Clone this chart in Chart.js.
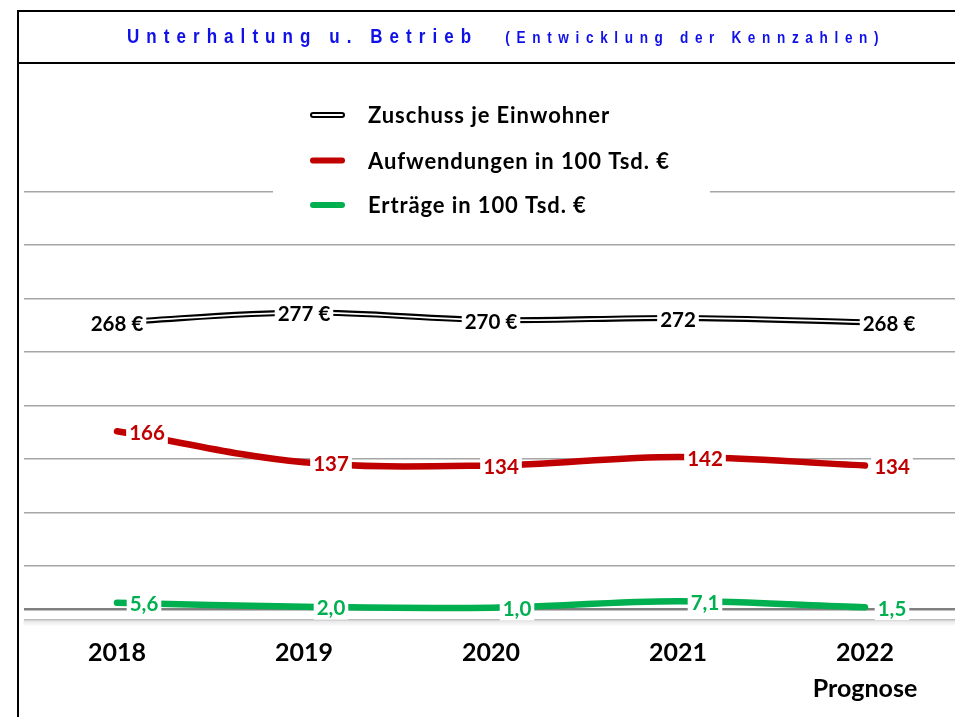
<!DOCTYPE html>
<html lang="de">
<head>
<meta charset="utf-8">
<title>Unterhaltung u. Betrieb</title>
<script src="https://cdn.jsdelivr.net/npm/chart.js@4.4.1/dist/chart.umd.min.js"></script>
<style>
    html, body { margin: 0; padding: 0; width: 955px; height: 717px; overflow: hidden; background: #fff; }
    #grafik { position: absolute; left: 0; top: 0; }
    #rahmen { position: absolute; left: 17px; top: 10px; width: 960px; height: 720px;
              border-left: 2px solid #000; border-top: 2px solid #000; pointer-events: none; }
    #kopf { height: 50px; border-bottom: 2px solid #000; }
    #titel { position: absolute; left: 127px; top: 26px; white-space: nowrap; line-height: 20px;
             font-family: 'Liberation Sans', Arial, sans-serif; font-weight: bold; color: #1010e8;
             transform: scaleX(0.85); transform-origin: 0 0; }
    #titel .haupt { font-size: 20px; letter-spacing: 8.3px; }
    #titel .zusatz { font-size: 16px; letter-spacing: 7.8px; margin-left: 32px; }
</style>
</head>
<body>
<canvas id="grafik" width="960" height="717"></canvas>
<div id="rahmen"><div id="kopf"></div></div>
<div id="titel"><span class="haupt">Unterhaltung u. Betrieb</span><span class="zusatz">(Entwicklung der Kennzahlen)</span></div>
<script>
// Daten
const jahre = [['2018'], ['2019'], ['2020'], ['2021'], ['2022', 'Prognose']];
const zuschuss = [268, 277, 270, 272, 268];
const zuschussText = ['268 €', '277 €', '270 €', '272', '268 €'];
const aufwendungen = [166, 137, 134, 142, 134];
const ertraege = [5.6, 2.0, 1.0, 7.1, 1.5];

// Gitterlinien der y-Achse
const gitterWerte = [-10, 0, 40, 90, 140, 190, 240, 290, 340, 390];

const schrift = "Lato, 'Open Sans', sans-serif";

function fmtGanz(v) { return v.toLocaleString('de-DE'); }
function fmtKomma(v) { return v.toLocaleString('de-DE', { minimumFractionDigits: 1, maximumFractionDigits: 1 }); }

// Beschriftung der Punkte (mit weissem Hintergrund)
const beschriftungen = [
    { ds: 0, texte: zuschussText, farbe: '#000000', dx: [0, 0, 0, 0, 24], dy: 1 },
    { ds: 2, texte: aufwendungen.map(fmtGanz), farbe: '#c00000', dx: [30, 27, 10, 27, 27], dy: 1 },
    { ds: 3, texte: ertraege.map(fmtKomma), farbe: '#00b050', dx: [27, 27, 26, 27, 27], dy: 1 }
];

const wertePlugin = {
    id: 'werte',
    afterDatasetsDraw(chart) {
        const ctx = chart.ctx;
        ctx.save();
        ctx.font = 'bold 20.5px ' + schrift;
        ctx.textAlign = 'center';
        ctx.textBaseline = 'middle';
        beschriftungen.forEach(b => {
            const meta = chart.getDatasetMeta(b.ds);
            meta.data.forEach((pt, i) => {
                const txt = b.texte[i];
                const x = pt.x + b.dx[i];
                const y = pt.y + b.dy;
                const w = ctx.measureText(txt).width;
                ctx.fillStyle = '#ffffff';
                ctx.fillRect(x - w / 2 - 3, y - 12, w + 6, 24);
                ctx.fillStyle = b.farbe;
                ctx.fillText(txt, x, y + 1);
            });
        });
        ctx.restore();
    }
};

// Legende im Diagramm (weisser Kasten ueber den Gitterlinien)
const legendePlugin = {
    id: 'legende',
    beforeDatasetsDraw(chart) {
        const ctx = chart.ctx;
        const eintraege = chart.data.datasets.filter(d => d.label);
        const zeilen = [115, 160.5, 205];
        ctx.save();
        ctx.fillStyle = '#ffffff';
        ctx.fillRect(273, 88, 437, 144);
        ctx.lineCap = 'round';
        ctx.font = 'bold 22px ' + schrift;
        ctx.letterSpacing = '0.9px';
        ctx.textBaseline = 'middle';
        eintraege.forEach((d, i) => {
            const y = zeilen[i];
            ctx.strokeStyle = d.borderColor;
            ctx.lineWidth = 6;
            ctx.beginPath(); ctx.moveTo(313, y); ctx.lineTo(342, y); ctx.stroke();
            if (d.doppelt) {
                ctx.strokeStyle = '#ffffff';
                ctx.lineWidth = 2;
                ctx.beginPath(); ctx.moveTo(313, y); ctx.lineTo(342, y); ctx.stroke();
            }
            ctx.fillStyle = '#000000';
            ctx.fillText(d.label, 368, y + 1);
        });
        ctx.restore();
    },
    afterDraw(chart) {
        // leichter Schatten unter der Grundlinie
        const ctx = chart.ctx;
        const a = chart.chartArea;
        const g = ctx.createLinearGradient(0, a.bottom + 1, 0, a.bottom + 7);
        g.addColorStop(0, 'rgba(0,0,0,0.10)');
        g.addColorStop(1, 'rgba(0,0,0,0)');
        ctx.save();
        ctx.fillStyle = g;
        ctx.fillRect(a.left, a.bottom + 1, a.right - a.left, 6);
        ctx.restore();
    }
};

const linie = { pointRadius: 0, pointHoverRadius: 0, tension: 0.35, fill: false,
                borderCapStyle: 'round', borderJoinStyle: 'round' };

new Chart(document.getElementById('grafik'), {
    type: 'line',
    data: {
        labels: jahre,
        datasets: [
            Object.assign({ label: 'Zuschuss je Einwohner', data: zuschuss, borderColor: '#000000', borderWidth: 6, order: 1, doppelt: true }, linie),
            Object.assign({ label: '', data: zuschuss, borderColor: '#ffffff', borderWidth: 1.8, order: 0 }, linie),
            Object.assign({ label: 'Aufwendungen in 100 Tsd. €', data: aufwendungen, borderColor: '#c00000', borderWidth: 6.5, order: 2 }, linie),
            Object.assign({ label: 'Erträge in 100 Tsd. €', data: ertraege, borderColor: '#00b050', borderWidth: 6.5, order: 3 }, linie)
        ]
    },
    options: {
        responsive: false,
        animation: false,
        events: [],
        layout: { padding: { left: 23.5, right: 1.5, top: 191.7, bottom: 0 } },
        plugins: { legend: { display: false }, tooltip: { enabled: false } },
        scales: {
            x: {
                offset: true,
                grid: { display: false },
                border: { display: false },
                ticks: {
                    color: '#000000',
                    font: { family: schrift, weight: 'bold', size: 25, lineHeight: 1.45 },
                    padding: 7.4,
                    maxRotation: 0,
                    autoSkip: false
                },
                afterFit(s) { s.height = 97.5; }
            },
            y: {
                min: -10,
                max: 390,
                afterBuildTicks(s) { s.ticks = gitterWerte.map(v => ({ value: v })); },
                ticks: { display: false },
                border: { display: false },
                grid: {
                    drawTicks: false,
                    color: c => c.tick.value === 0 ? '#808080' : (c.tick.value === -10 ? '#bdbdbd' : '#a6a6a6'),
                    lineWidth: c => c.tick.value === 0 ? 2.5 : 1.6
                },
                afterFit(s) { s.width = 0; }
            }
        }
    },
    plugins: [legendePlugin, wertePlugin]
});
</script>
</body>
</html>
